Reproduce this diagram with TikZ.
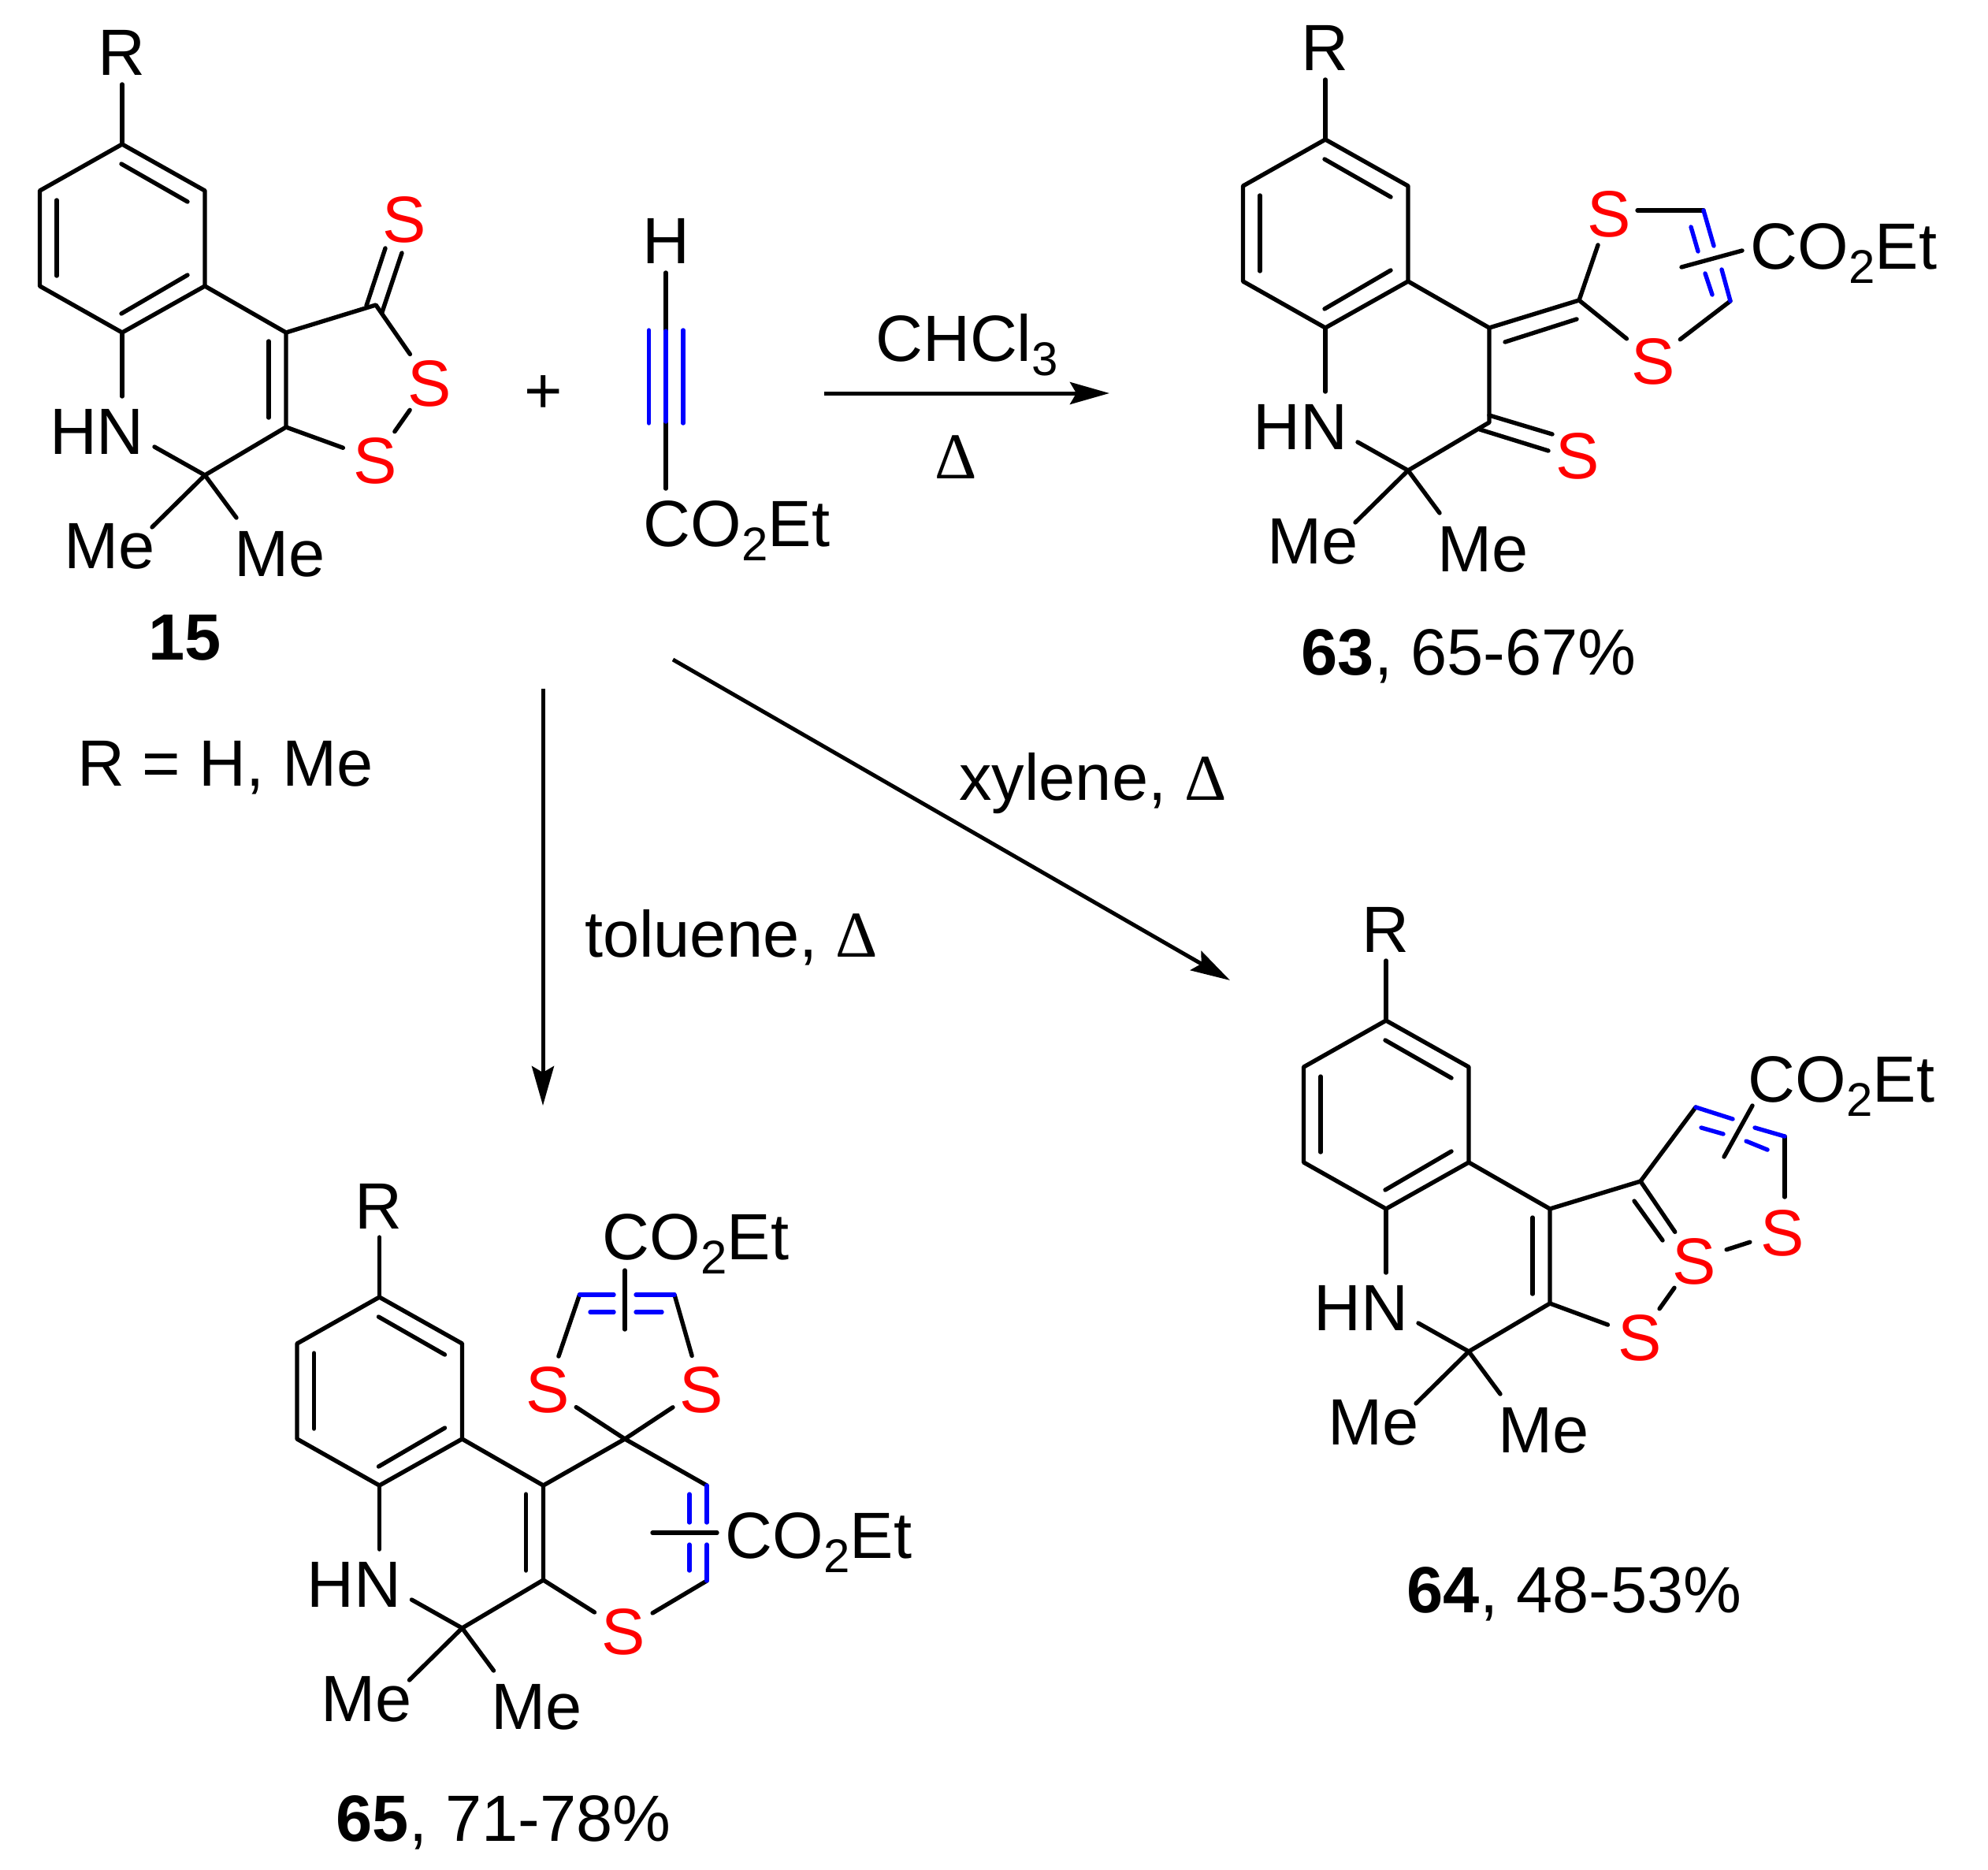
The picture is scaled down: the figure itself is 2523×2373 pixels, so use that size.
\documentclass[tikz,border=0pt]{standalone}
\usepackage{fontspec}
\setmainfont{Liberation Sans}
\newfontfamily\deltafont{Liberation Serif}
\usetikzlibrary{arrows.meta}
\newcommand{\subs}[1]{\raisebox{-18pt}{\fontsize{60}{60}\selectfont #1}}
\newcommand{\coet}{CO\subs{2}Et}
\newcommand{\heat}{{\deltafont Δ}}
\tikzset{
	bond/.style={line width=5.4pt,line cap=round,line join=round},
	dbl/.style={bond,blue},
	rxn/.style={line width=5pt,-{Stealth[length=50pt,width=28pt,inset=8pt]}},
	atom/.style={font=\fontsize{83}{90}\selectfont,inner sep=0pt,text height=60pt,text depth=0pt},
	sulfur/.style={atom,red,circle,minimum size=86pt},
	pics/quinoline/.style={code={
		\coordinate (-a) at (0,0);
		\coordinate (-b) at (105,59);
		\coordinate (-c) at (105,180);
		\coordinate (-d) at (0,239);
		\coordinate (-e) at (-104.5,180);
		\coordinate (-f) at (-104.5,59);
		\coordinate (-g) at (208,239);
		\coordinate (-h) at (208,359);
		\coordinate (-i) at (105,420);
		\coordinate (-rb) at (0,-76);
		\coordinate (-na) at (0,320);
		\coordinate (-nb) at (41,384);
		\coordinate (-ma) at (38,486);
		\coordinate (-mb) at (145,474);
		\coordinate (-p) at (186,250);
		\coordinate (-q) at (186,347);
		\node[atom] (-R) at (-1,-117) {R};
		\node[atom] (-HN) at (-32,363) {HN};
		\node[atom] (-Me1) at (-16,508) {Me};
		\node[atom] (-Me2) at (200,518) {Me};
		\draw[bond] (-a) -- (-b) -- (-c) -- (-d) -- (-e) -- (-f) -- cycle;
		\draw[bond] (-1,25) -- (83,73);
		\draw[bond] (-83,71) -- (-83,167);
		\draw[bond] (-1,215) -- (83,166);
		\draw[bond] (-a) -- (-rb);
		\draw[bond] (-d) -- (-na);
		\draw[bond] (-c) -- (-g);
		\draw[bond] (-g) -- (-h) -- (-i) -- (-nb);
		\draw[bond] (-i) -- (-ma);
		\draw[bond] (-i) -- (-mb);
	}}
}
\begin{document}
\begin{tikzpicture}[x=1pt,y=-1pt]
	\useasboundingbox (0,0) rectangle (2523,2373);
	% 15
	\pic (sm) at (155,183) {quinoline};
	\draw[bond] (sm-p) -- (sm-q);
	\coordinate (smk) at (477,387);
	\node[sulfur] (sms0) at (513,277) {S};
	\node[sulfur] (sms1) at (545,485) {S};
	\node[sulfur] (sms2) at (476,583) {S};
	\draw[bond] (sm-g) -- (smk) -- (sms1) -- (sms2) -- (sm-h);
	\draw[bond] (465,388) -- (489,315);
	\draw[bond] (485,396) -- (510,321);
	\node[atom] (smlab) at (235,807) {\textbf{15}};
	\node[atom] (smr) at (286,967) {R = H, Me};
	\node[atom] (plus) at (690,494) {+};
	% alkyne
	\node[atom] (alkh) at (845,304) {H};
	\node[atom] (alke) at (935,663) {\coet};
	\coordinate (alka) at (845,346);
	\coordinate (alkb) at (845,420);
	\coordinate (alkc) at (845,535);
	\coordinate (alkd) at (845,620);
	\draw[bond] (alka) -- (alkb);
	\draw[bond] (alkc) -- (alkd);
	\draw[dbl] (alkb) -- (alkc);
	\draw[dbl] (823.5,419) -- (823.5,537);
	\draw[dbl] (867,419) -- (867,537);
	% arrows
	\coordinate (rxa) at (1046,499);
	\coordinate (rxb) at (1408,499);
	\coordinate (rxc) at (689,874);
	\coordinate (rxd) at (689,1403);
	\coordinate (rxe) at (854,837);
	\coordinate (rxf) at (1561,1244);
	\draw[rxn] (rxa) -- (rxb);
	\draw[rxn] (rxc) -- (rxd);
	\draw[rxn] (rxe) -- (rxf);
	\node[atom] (chcl) at (1227,428) {CHCl\subs{3}};
	\node[atom] (hta) at (1213,577) {\heat};
	\node[atom] (tol) at (928,1184) {toluene, \heat};
	\node[atom] (xyl) at (1387,985) {xylene, \heat};
	% 63
	\pic (pa) at (1682,177) {quinoline};
	\coordinate (pam) at (2004,381);
	\coordinate (pan) at (2162,267);
	\coordinate (pao) at (2196,382);
	\coordinate (pat) at (2078,267);
	\node[sulfur] (pas1) at (2042,270) {S};
	\node[sulfur] (pas2) at (2098,457) {S};
	\node[sulfur] (pas3) at (2002,577) {S};
	\node[atom] (pae) at (2340,311) {\coet};
	\draw[bond] (pa-g) -- (pam) -- (pas1);
	\draw[bond] (pat) -- (pan);
	\draw[bond] (pam) -- (pas2) -- (pao);
	\draw[bond] (1910,434) -- (2001,405);
	\draw[dbl] (pan) -- (2175,312);
	\draw[dbl] (2185,342) -- (pao);
	\draw[dbl] (2146,288) -- (2155,319);
	\draw[dbl] (2164,347) -- (2173,374);
	\draw[bond] (2134,339) -- (2211,318);
	\draw[bond] (1890,527) -- (1970,551);
	\draw[bond] (1878,545) -- (1965,572);
	\node[atom] (palab) at (1864,826) {\textbf{63}, 65-67\%};
	% 64
	\pic (xy) at (1759,1295) {quinoline};
	\draw[bond] (xy-p) -- (xy-q);
	\coordinate (xyk) at (2082,1499);
	\coordinate (xyq) at (2152,1405);
	\coordinate (xyr) at (2265,1442);
	\coordinate (xyt) at (2265,1519);
	\node[sulfur] (xys1) at (2150,1599) {S};
	\node[sulfur] (xys2) at (2081,1696) {S};
	\node[sulfur] (xys3) at (2262,1563) {S};
	\node[atom] (xye) at (2337,1368) {\coet};
	\draw[bond] (xy-g) -- (xyk) -- (xyq);
	\draw[bond] (xyk) -- (xys1) -- (xys2) -- (xy-h);
	\draw[bond] (2074,1524) -- (2110,1574);
	\draw[bond] (xys1) -- (xys3);
	\draw[bond] (xyt) -- (xyr);
	\draw[dbl] (xyq) -- (2199,1420);
	\draw[dbl] (2227,1431) -- (xyr);
	\draw[dbl] (2159,1431) -- (2187,1439);
	\draw[dbl] (2216,1448) -- (2243,1459);
	\draw[bond] (2224,1403) -- (2188,1468);
	\node[atom] (xylab) at (1998,2016) {\textbf{64}, 48-53\%};
	% 65
	\pic (tl) at (481.5,1646) {quinoline};
	\draw[bond] (tl-p) -- (tl-q);
	\coordinate (tlm) at (793,1826);
	\coordinate (tla) at (735.5,1643);
	\coordinate (tlb) at (856,1643);
	\coordinate (tlc) at (897,1885);
	\coordinate (tld) at (897,2006);
	\node[sulfur] (tls1) at (695,1762) {S};
	\node[sulfur] (tls2) at (890,1762) {S};
	\node[sulfur] (tls3) at (791,2069) {S};
	\node[atom] (tle1) at (883,1568) {\coet};
	\node[atom] (tle2) at (1039,1947) {\coet};
	\draw[bond] (tl-g) -- (tlm) -- (tlc);
	\draw[bond] (tlm) -- (tls1) -- (tla);
	\draw[bond] (tlm) -- (tls2) -- (tlb);
	\draw[bond] (tl-h) -- (tls3) -- (tld);
	\draw[dbl] (tla) -- (779,1643);
	\draw[dbl] (807,1643) -- (tlb);
	\draw[dbl] (749,1665) -- (779,1665);
	\draw[dbl] (807,1665) -- (840,1665);
	\draw[bond] (793,1612) -- (793,1687);
	\draw[dbl] (tlc) -- (897,1932);
	\draw[dbl] (897,1960) -- (tld);
	\draw[dbl] (875,1896) -- (875,1932);
	\draw[dbl] (875,1960) -- (875,1993);
	\draw[bond] (828,1945) -- (910,1945);
	\node[atom] (tllab) at (639,2306) {\textbf{65}, 71-78\%};
\end{tikzpicture}
\end{document}
